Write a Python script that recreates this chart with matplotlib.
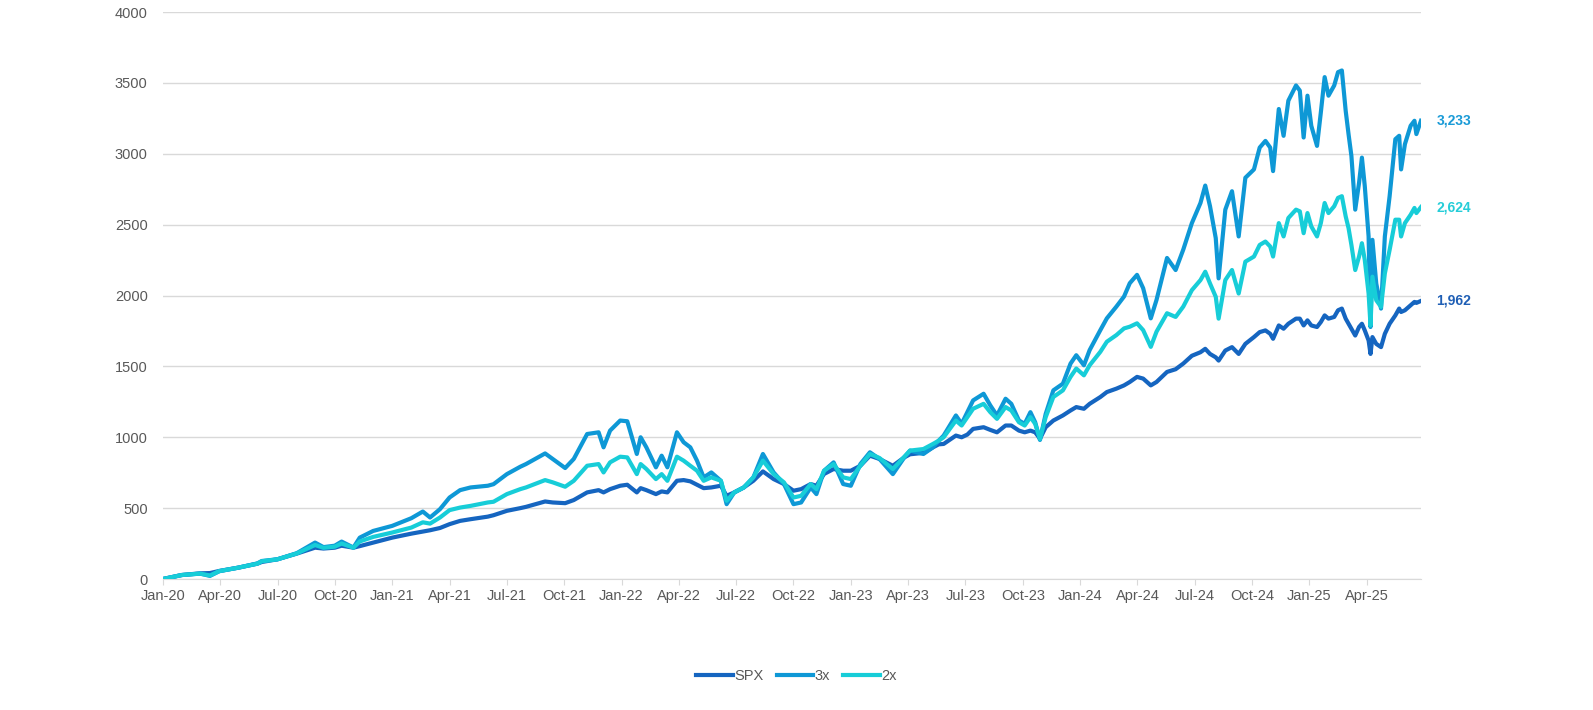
import matplotlib
matplotlib.use("Agg")
import matplotlib.pyplot as plt

# months since Jan-2020
months = [0.0, 0.98, 1.94, 2.46, 2.95, 3.94, 4.94, 5.17, 5.99, 7.0, 7.96, 8.4, 8.99, 9.35, 9.97,
          10.3, 11.0, 12.0, 13.0, 13.6, 13.98, 14.5, 15.0, 15.55, 16.1, 17.0, 17.3, 18.0, 18.7,
          19.0, 20.0, 20.4, 21.05, 21.5, 22.2, 22.8, 23.06, 23.4, 23.93, 24.3, 24.8, 25.0, 25.3,
          25.8, 26.1, 26.4, 26.9, 27.25, 27.6, 27.95, 28.3, 28.7, 29.2, 29.5, 29.9, 30.4, 30.9,
          31.4, 31.96, 32.5, 33.0, 33.4, 33.9, 34.2, 34.6, 35.1, 35.6, 36.0, 36.5, 37.0, 37.5,
          38.2, 38.8, 39.1, 39.8, 40.3, 40.6, 40.86, 41.5, 41.8, 42.1, 42.4, 42.95, 43.3, 43.65,
          44.1, 44.4, 44.8, 45.1, 45.4, 45.65, 45.9, 46.2, 46.6, 47.1, 47.5, 47.8, 48.2, 48.5,
          49.06, 49.4, 49.9, 50.3, 50.6, 50.98, 51.3, 51.7, 52.0, 52.55, 53.0, 53.4, 53.85, 54.3,
          54.55, 54.8, 55.1, 55.25, 55.6, 55.95, 56.3, 56.65, 57.1, 57.4, 57.7, 57.95, 58.1, 58.4,
          58.65, 58.9, 59.3, 59.5, 59.7, 59.9, 60.1, 60.4, 60.6, 60.8, 61.0, 61.3, 61.5, 61.7,
          61.9, 62.05, 62.2, 62.4, 62.6, 62.75, 62.9, 63.1, 63.2, 63.3, 63.5, 63.75, 63.95, 64.2,
          64.5, 64.7, 64.8, 65.0, 65.3, 65.5, 65.6, 65.84]

spx = [0, 28, 40, 42, 57, 80, 108, 120, 139, 179, 221, 215, 221, 235, 221,
       232, 257, 292, 320, 335, 344, 360, 387, 410, 422, 440, 450, 481, 500,
       509, 547, 540, 535, 557, 611, 627, 611, 634, 658, 665, 611, 641, 627,
       599, 618, 611, 693, 698, 689, 665, 641, 646, 658, 587, 611, 646, 693,
       759, 705, 670, 623, 634, 670, 658, 741, 776, 764, 764, 799, 870, 847,
       799, 858, 880, 890, 929, 950, 953, 1012, 1000, 1019, 1059, 1071, 1052, 1035,
       1083, 1083, 1047, 1035, 1047, 1035, 990, 1071, 1118, 1154, 1189, 1213, 1201, 1236,
       1284, 1319, 1343, 1366, 1390, 1426, 1414, 1366, 1390, 1461, 1480, 1520, 1575, 1600,
       1624, 1588, 1564, 1541, 1612, 1636, 1588, 1659, 1707, 1742, 1754, 1730, 1695, 1789,
       1766, 1801, 1837, 1837, 1789, 1825, 1789, 1778, 1813, 1860, 1837, 1849, 1896, 1908,
       1837, 1801, 1766, 1718, 1778, 1801, 1754, 1683, 1588, 1707, 1659, 1636, 1730, 1801,
       1860, 1908, 1884, 1896, 1931, 1955, 1948, 1962]

x3 = [0, 28, 38, 22, 55, 80, 110, 127, 139, 182, 257, 225, 235, 264, 222,
      292, 339, 375, 429, 476, 434, 493, 575, 627, 646, 658, 669, 740, 792,
      811, 886, 847, 783, 847, 1023, 1035, 929, 1047, 1118, 1113, 882, 1000, 929,
      788, 870, 788, 1035, 965, 929, 835, 717, 752, 693, 528, 611, 646, 717,
      882, 752, 670, 528, 540, 646, 599, 764, 823, 670, 658, 811, 894, 847,
      740, 858, 906, 882, 929, 976, 1012, 1154, 1095, 1177, 1260, 1307, 1225, 1154,
      1272, 1236, 1118, 1095, 1177, 1106, 981, 1165, 1331, 1378, 1520, 1579, 1508, 1615,
      1756, 1839, 1922, 1993, 2087, 2146, 2052, 1839, 1969, 2265, 2180, 2324, 2511, 2653,
      2776, 2630, 2405, 2121, 2606, 2736, 2417, 2831, 2890, 3044, 3091, 3044, 2878, 3316,
      3127, 3375, 3482, 3446, 3115, 3410, 3198, 3056, 3292, 3541, 3410, 3482, 3576, 3588,
      3304, 3139, 2985, 2606, 2795, 2973, 2772, 2417, 1778, 2393, 2085, 1908, 2417, 2701,
      3103, 3127, 2890, 3068, 3198, 3233, 3139, 3233]

x2 = [0, 28, 38, 25, 56, 80, 108, 125, 139, 180, 240, 220, 228, 250, 221,
      265, 297, 328, 363, 400, 391, 434, 486, 504, 516, 540, 545, 599, 634,
      646, 698, 682, 651, 693, 799, 811, 752, 823, 863, 858, 740, 811, 776,
      705, 740, 693, 863, 835, 799, 764, 693, 717, 693, 552, 611, 646, 717,
      835, 740, 682, 575, 587, 670, 634, 764, 811, 717, 705, 799, 882, 854,
      776, 863, 906, 917, 953, 976, 1000, 1118, 1083, 1142, 1201, 1236, 1177, 1130,
      1213, 1189, 1106, 1083, 1142, 1095, 988, 1142, 1284, 1331, 1426, 1485, 1437, 1508,
      1603, 1674, 1721, 1768, 1780, 1804, 1756, 1638, 1745, 1875, 1849, 1922, 2038, 2109,
      2168, 2085, 1991, 1837, 2109, 2180, 2014, 2239, 2275, 2357, 2381, 2346, 2275, 2511,
      2417, 2547, 2606, 2594, 2440, 2582, 2488, 2417, 2511, 2653, 2582, 2630, 2689, 2701,
      2559, 2476, 2357, 2180, 2275, 2369, 2251, 2014, 1789, 2133, 1967, 1920, 2156, 2322,
      2535, 2535, 2417, 2511, 2570, 2618, 2582, 2624]

series_names = ["SPX", "3x", "2x"]
end_labels = ["1,962", "3,233", "2,624"]
tick_labels = ["Jan-20", "Apr-20", "Jul-20", "Oct-20", "Jan-21", "Apr-21", "Jul-21", "Oct-21",
               "Jan-22", "Apr-22", "Jul-22", "Oct-22", "Jan-23", "Apr-23", "Jul-23", "Oct-23",
               "Jan-24", "Apr-24", "Jul-24", "Oct-24", "Jan-25", "Apr-25"]
yticks = [0, 500, 1000, 1500, 2000, 2500, 3000, 3500, 4000]

colors = ["#1565c0", "#0e98d6", "#17cdd8"]
label_colors = ["#1f5fb5", "#1a9bd7", "#25cdd8"]

plt.rcParams['font.family'] = ['Liberation Sans', 'DejaVu Sans']

fig = plt.figure(figsize=(15.93, 7.10), dpi=100)
ax = fig.add_axes([0.1023, 0.1845, 0.7897, 0.7985])

data = [spx, x3, x2]
for name, vals, c in zip(series_names, data, colors):
    ax.plot(months, vals, color=c, lw=3.0, label=name, solid_joinstyle='round', zorder=3)

for vals, lab, c in zip(data, end_labels, label_colors):
    ax.annotate(lab, xy=(months[-1], vals[-1]), xytext=(11, 0), textcoords='offset points',
                ha='left', va='center', fontsize=10, fontweight='bold', color=c)

ax.set_xlim(months[0], months[-1])
ax.set_ylim(0, 4000)
ax.set_yticks(yticks)
ax.set_yticklabels([str(v) for v in yticks])
ax.set_xticks([3 * i for i in range(len(tick_labels))])
ax.set_xticklabels(tick_labels)

ax.grid(axis='y', color='#d9d9d9', lw=1)
ax.set_axisbelow(True)
for s in ['top', 'right', 'left']:
    ax.spines[s].set_visible(False)
ax.spines['bottom'].set_color('#d9d9d9')
ax.tick_params(axis='y', length=0, pad=11, labelsize=10.5, labelcolor='#595959')
ax.tick_params(axis='x', length=4, color='#d9d9d9', pad=3, labelsize=10.5, labelcolor='#595959')

leg = fig.legend(loc='center', bbox_to_anchor=(0.5, 0.048), ncol=3, frameon=False,
                 fontsize=10.5, handlelength=2.5, handletextpad=0.1, columnspacing=0.9)
for t in leg.get_texts():
    t.set_color('#595959')

fig.savefig("out.png", dpi=100)
